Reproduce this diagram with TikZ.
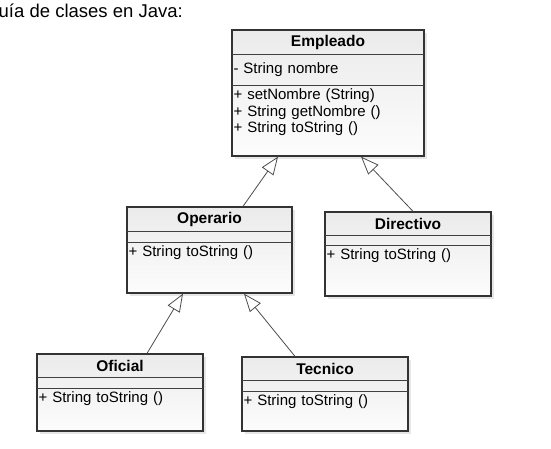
\documentclass[tikz,border=0pt]{standalone}
\usepackage{fontspec}
\setmainfont{Liberation Sans}
\usetikzlibrary{positioning, arrows.meta, shadows}

\begin{document}
\begin{tikzpicture} [
		x = 1pt,
		y = -1pt,
		class/.style = {
			rectangle,
			draw = black!80,
			line width = 1.3pt,
			top color = gray!16,
			bottom color = gray!2,
			inner sep = 0pt,
			drop shadow = {shadow xshift=3pt, shadow yshift=-3pt, opacity=0.2},
		},
		class-name/.style = {
			rectangle,
			inner sep = 0pt,
			font = \fontsize{15.5}{18}\selectfont\bfseries,
		},
		class-attr/.style = {
			rectangle,
			inner xsep = 1.5pt,
			inner ysep = 0pt,
			align = left,
			font = \fontsize{15}{16.5}\selectfont,
		},
		class-ops/.style = {
			rectangle,
			inner xsep = 1.5pt,
			inner ysep = 3.5pt,
			align = left,
			font = \fontsize{15}{16.5}\selectfont,
		},
		divider/.style = {
			draw = black!75,
			line width = 0.8pt,
		},
		line/.style = {
			draw = black!70,
			line width = 0.8pt,
			-{Triangle[open, length = 18pt, width = 14pt]},
		},
		caption/.style = {
			inner sep = 0pt,
			font = \fontsize{18.5}{20}\selectfont,
		},
	]

	\useasboundingbox (0, 0) rectangle (551, 448);

	\node[caption, anchor = base west] (caption) at (-1.5, 17) {uía de clases en Java:};

	% Empleado
	\node[class, minimum width = 192pt, minimum height = 126pt] (empleado) at (328, 93) {};
	\node[class-name, minimum width = 192pt, minimum height = 25pt, below = 0pt of empleado.north] (empleadoName) {
		Empleado
	};
	\node[class-attr, text width = 189pt, minimum height = 30pt, below = 0pt of empleadoName] (empleadoAttr) {
		- String nombre
	};
	\node[class-ops, text width = 189pt, below = 0pt of empleadoAttr] (empleadoOps) {
		+ setNombre (String)\\
		+ String getNombre ()\\
		+ String toString ()
	};

	% Operario
	\node[class, minimum width = 165pt, minimum height = 86pt] (operario) at (209.5, 250) {};
	\node[class-name, minimum width = 165pt, minimum height = 25pt, below = 0pt of operario.north] (operarioName) {
		Operario
	};
	\node[class-attr, text width = 162pt, minimum height = 10pt, below = 0pt of operarioName] (operarioAttr) {};
	\node[class-ops, text width = 162pt, below = 0pt of operarioAttr] (operarioOps) {
		+ String toString ()
	};

	% Directivo
	\node[class, minimum width = 166pt, minimum height = 84pt] (directivo) at (408, 254) {};
	\node[class-name, minimum width = 166pt, minimum height = 24pt, below = 0pt of directivo.north] (directivoName) {
		Directivo
	};
	\node[class-attr, text width = 163pt, minimum height = 9pt, below = 0pt of directivoName] (directivoAttr) {};
	\node[class-ops, text width = 163pt, below = 0pt of directivoAttr] (directivoOps) {
		+ String toString ()
	};

	% Oficial
	\node[class, minimum width = 166pt, minimum height = 77pt] (oficial) at (120, 392.5) {};
	\node[class-name, minimum width = 166pt, minimum height = 24pt, below = 0pt of oficial.north] (oficialName) {
		Oficial
	};
	\node[class-attr, text width = 163pt, minimum height = 10pt, below = 0pt of oficialName] (oficialAttr) {};
	\node[class-ops, text width = 163pt, below = 0pt of oficialAttr] (oficialOps) {
		+ String toString ()
	};

	% Tecnico
	\node[class, minimum width = 166pt, minimum height = 74pt] (tecnico) at (325, 394) {};
	\node[class-name, minimum width = 166pt, minimum height = 24pt, below = 0pt of tecnico.north] (tecnicoName) {
		Tecnico
	};
	\node[class-attr, text width = 163pt, minimum height = 10pt, below = 0pt of tecnicoName] (tecnicoAttr) {};
	\node[class-ops, text width = 163pt, below = 0pt of tecnicoAttr] (tecnicoOps) {
		+ String toString ()
	};

	\begin{scope} [
		every path/.style = divider
		]
		\foreach \c in {empleado, operario, directivo, oficial, tecnico} {
			\path (\c Name.south west) -- (\c Name.south east);
			\path (\c Attr.south west) -- (\c Attr.south east);
		}
	\end{scope}

	\begin{scope} [
		every path/.style = line
		]
		\path ([xshift = 33.5pt]operario.north) -- ([xshift = -50pt]empleado.south);
		\path ([xshift = 5pt]directivo.north) -- ([xshift = 33pt]empleado.south);

		\path ([xshift = 27pt]oficial.north) -- ([xshift = -26.5pt]operario.south);
		\path ([xshift = -30pt]tecnico.north) -- ([xshift = 34.5pt]operario.south);
	\end{scope}
\end{tikzpicture}
\end{document}
